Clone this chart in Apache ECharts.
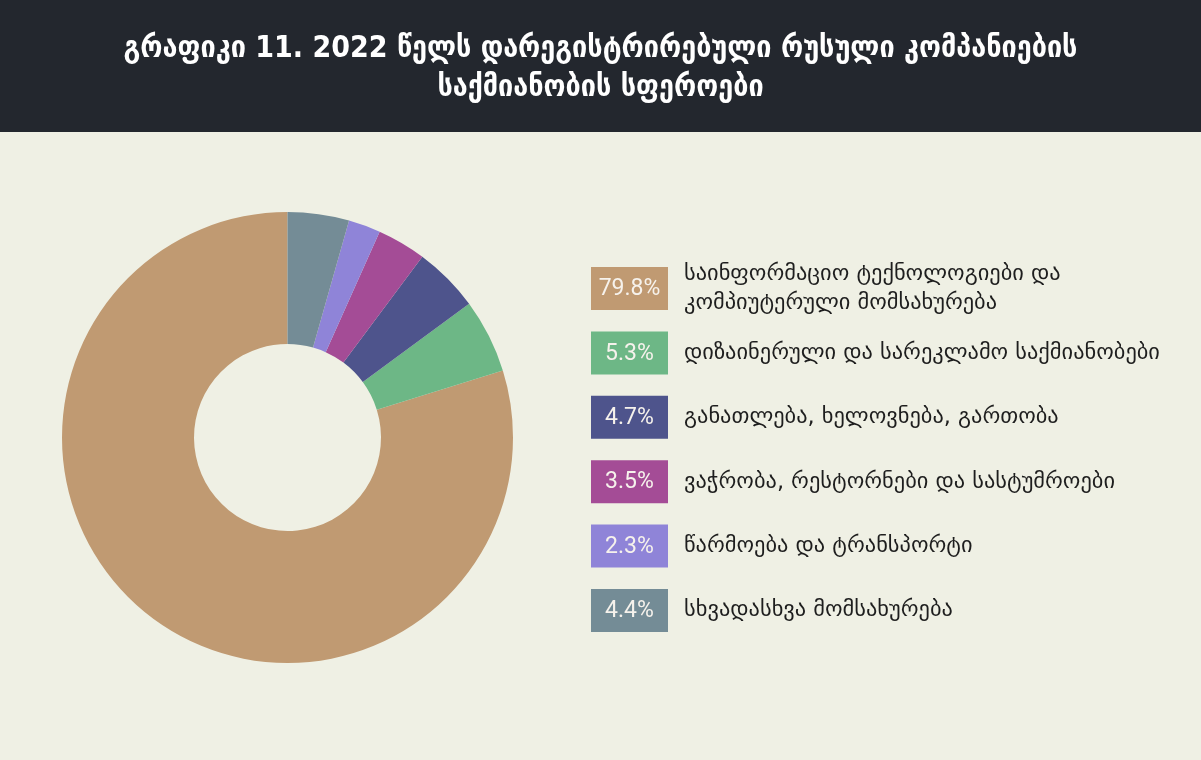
<!DOCTYPE html>
<html><head><meta charset="utf-8">
<script src="https://cdn.jsdelivr.net/npm/echarts@6/dist/echarts.min.js"></script>
<style>html,body{margin:0;padding:0;background:#eff0e4}#c{width:1201px;height:760px}</style>
</head><body><div id="c"></div>
<script>
var titleText = 'გრაფიკი 11. 2022 წელს დარეგისტრირებული რუსული კომპანიების\nსაქმიანობის სფეროები';
var categories = [
  'საინფორმაციო ტექნოლოგიები და\nკომპიუტერული მომსახურება',
  'დიზაინერული და სარეკლამო საქმიანობები',
  'განათლება, ხელოვნება, გართობა',
  'ვაჭრობა, რესტორნები და სასტუმროები',
  'წარმოება და ტრანსპორტი',
  'სხვადასხვა მომსახურება'
];
var values = [79.8, 5.3, 4.7, 3.5, 2.3, 4.4];
var colors = ['#c09a72', '#6db786', '#4e548c', '#a44c96', '#8f84d8', '#748c96'];

var geo = '"DejaVu Sans", "Noto Sans", sans-serif';
var legendTop = 267, legendStep = 64.4, boxW = 77, boxH = 43, boxX = 591, textX = 684;

var legendEls = [];
categories.forEach(function (c, i) {
  var y = legendTop + i * legendStep;
  legendEls.push({
    type: 'rect', left: boxX, top: y,
    shape: { width: boxW, height: boxH },
    style: { fill: colors[i] }
  });
  legendEls.push({
    type: 'text', x: boxX + boxW / 2, y: y + boxH / 2 + 1,
    style: { text: values[i].toFixed(1) + '%', fill: '#f6f2ec', font: '23px Roboto, sans-serif',
             textAlign: 'center', textVerticalAlign: 'middle' }
  });
  legendEls.push({
    type: 'text', x: textX, y: y + boxH / 2,
    style: { text: c, fill: '#1e1e1e', font: '22.4px ' + geo, lineHeight: 29,
             textAlign: 'left', textVerticalAlign: 'middle' }
  });
});

var chart = echarts.init(document.getElementById('c'));
chart.setOption({
  backgroundColor: '#eff0e4',
  title: {
    text: titleText, left: 'center', top: 25,
    textStyle: { color: '#ffffff', fontSize: 30, fontWeight: 'bold', lineHeight: 39,
                 fontFamily: '"DejaVu Sans Condensed", "DejaVu Sans", sans-serif' }
  },
  graphic: [{
    type: 'rect', left: 0, top: 0, z: -1,
    shape: { width: 1201, height: 132 },
    style: { fill: '#23272e' }
  }].concat(legendEls),
  series: [{
    type: 'pie',
    center: [287.5, 437.5],
    radius: [93.5, 225.5],
    startAngle: 90,
    clockwise: false,
    label: { show: false },
    labelLine: { show: false },
    silent: true,
    data: categories.map(function (c, i) {
      return { name: c, value: values[i], itemStyle: { color: colors[i] } };
    })
  }]
});
</script></body></html>
